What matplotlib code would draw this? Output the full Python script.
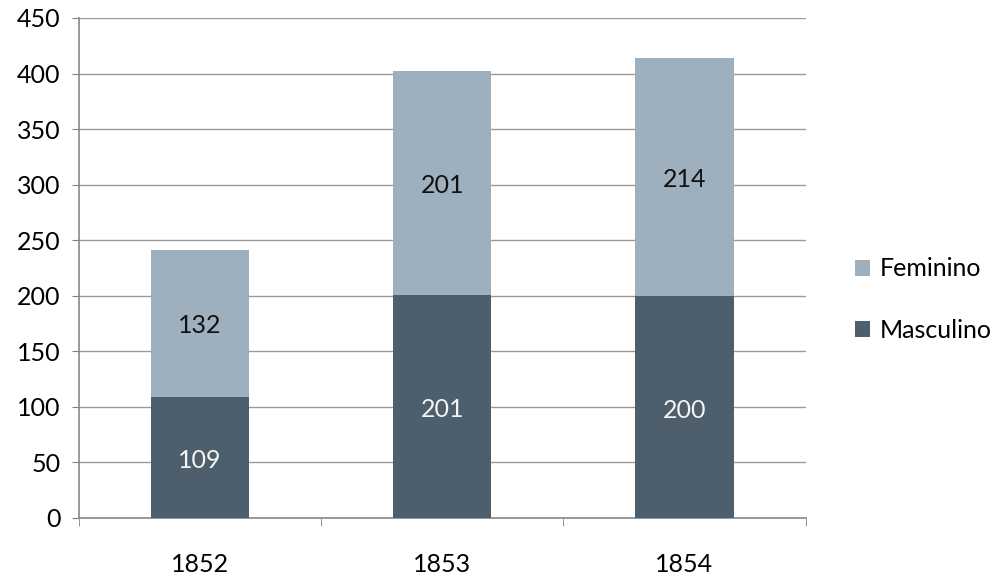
import numpy as np
import matplotlib.pyplot as plt

plt.rcParams['font.family'] = ['Lato', 'DejaVu Sans']

# data
years = ['1852', '1853', '1854']
masculino = [109, 201, 200]
feminino = [132, 201, 214]

col_m = '#4d5f6c'
col_f = '#9eafbd'

fig = plt.figure(figsize=(9.97, 5.8), dpi=100)
ax = fig.add_axes([0.079, 0.107, 0.729, 0.862])

x = np.arange(len(years))
w = 0.405
b1 = ax.bar(x, masculino, w, color=col_m, label='Masculino', zorder=3)
b2 = ax.bar(x, feminino, w, bottom=masculino, color=col_f, label='Feminino', zorder=3)

for i in range(len(years)):
    ax.text(x[i], masculino[i] / 2 - 3, str(masculino[i]), ha='center', va='center',
            fontsize=18, color='#f4f4f4', zorder=4)
    ax.text(x[i], masculino[i] + feminino[i] / 2 - 2, str(feminino[i]), ha='center', va='center',
            fontsize=18, color='#111111', zorder=4)

ax.set_xlim(-0.5, 2.5)
ax.set_ylim(0, 450)
ax.set_yticks(np.arange(0, 451, 50))
ax.yaxis.grid(True, color='#9a9a9a', linewidth=1.0, zorder=0)
ax.tick_params(axis='y', labelsize=18, length=5, color='#808080', pad=8)

ax.set_xticks(x)
ax.set_xticklabels(years)
ax.set_xticks([-0.5, 0.5, 1.5, 2.5], minor=True)
ax.tick_params(axis='x', which='major', length=0, labelsize=18, pad=25)
ax.tick_params(axis='x', which='minor', length=6, color='#808080')

for s in ['top', 'right']:
    ax.spines[s].set_visible(False)
for s in ['left', 'bottom']:
    ax.spines[s].set_color('#7f8a94')
    ax.spines[s].set_linewidth(1.2)

h, l = ax.get_legend_handles_labels()
fig.legend(h[::-1], l[::-1], loc='center left', bbox_to_anchor=(0.835, 0.483),
           frameon=False, fontsize=18, handlelength=0.6, handleheight=0.6,
           handletextpad=0.4, labelspacing=1.55)

fig.savefig('out.png', dpi=100)
